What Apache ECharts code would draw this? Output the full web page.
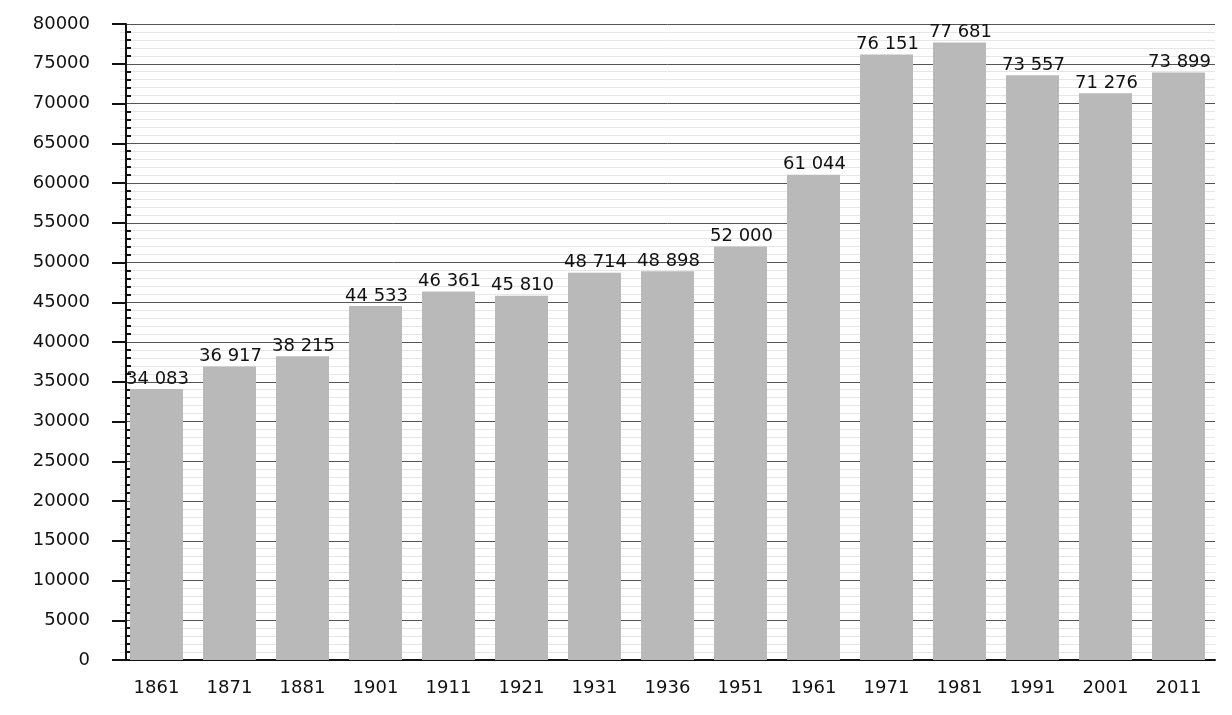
<!DOCTYPE html>
<html>
<head>
<meta charset="utf-8">
<script src="https://cdn.jsdelivr.net/npm/echarts@6/dist/echarts.min.js"></script>
<style>
  html, body { margin: 0; padding: 0; background: #fff; }
  #main { width: 1232px; height: 715px; }
</style>
</head>
<body>
<div id="main"></div>
<script>
// années du recensement
const years = ["1861", "1871", "1881", "1901", "1911", "1921", "1931", "1936", "1951", "1961", "1971", "1981", "1991", "2001", "2011"];
// population
const population = [34083, 36917, 38215, 44533, 46361, 45810, 48714, 48898, 52000, 61044, 76151, 77681, 73557, 71276, 73899];

// 34083 -> "34 083"
function fmt(v) {
  return String(v).replace(/\B(?=(\d{3})+(?!\d))/g, " ");
}

var myChart = echarts.init(document.getElementById("main"));
var font = "DejaVu Sans, Verdana, sans-serif";

var option = {
  animation: false,
  grid: { left: 120, right: 17, top: 24, bottom: 55 },
  xAxis: {
    type: "category",
    data: years,
    axisLine: { lineStyle: { color: "#111", width: 2 } },
    axisTick: { show: false },
    axisLabel: { color: "#111", fontSize: 18, fontFamily: font, margin: 19 }
  },
  yAxis: [
    {
      type: "value",
      min: 0,
      max: 80000,
      interval: 5000,
      offset: -6,
      axisLine: { show: true, lineStyle: { color: "#111", width: 2 } },
      axisTick: { show: true, length: 14, lineStyle: { color: "#111", width: 2 } },
      axisLabel: { color: "#111", fontSize: 18, fontFamily: font, margin: 36, formatter: function (v) { return String(v); } },
      splitLine: { lineStyle: { color: "#555", width: 1 } },
      minorTick: { show: false },
      minorSplitLine: { show: true, lineStyle: { color: "#e6e6e6", width: 1 } }
    },
    {
      type: "value",
      position: "left",
      min: 0,
      max: 80000,
      interval: 5000,
      offset: -6,
      axisLine: { show: false },
      axisTick: { show: false, inside: true },
      axisLabel: { show: false },
      splitLine: { show: false },
      minorTick: { show: true, splitNumber: 5, length: 5, lineStyle: { color: "#111", width: 2 } }
    }
  ],
  series: [
    {
      name: "population",
      type: "bar",
      data: population,
      barWidth: 53,
      itemStyle: { color: "#b9b9b9" },
      label: {
        show: true,
        position: [-4, -1],
        align: "left",
        verticalAlign: "bottom",
        color: "#111",
        fontSize: 18,
        fontFamily: font,
        formatter: function (p) { return fmt(p.value); }
      }
    }
  ]
};

myChart.setOption(option);
</script>
</body>
</html>
